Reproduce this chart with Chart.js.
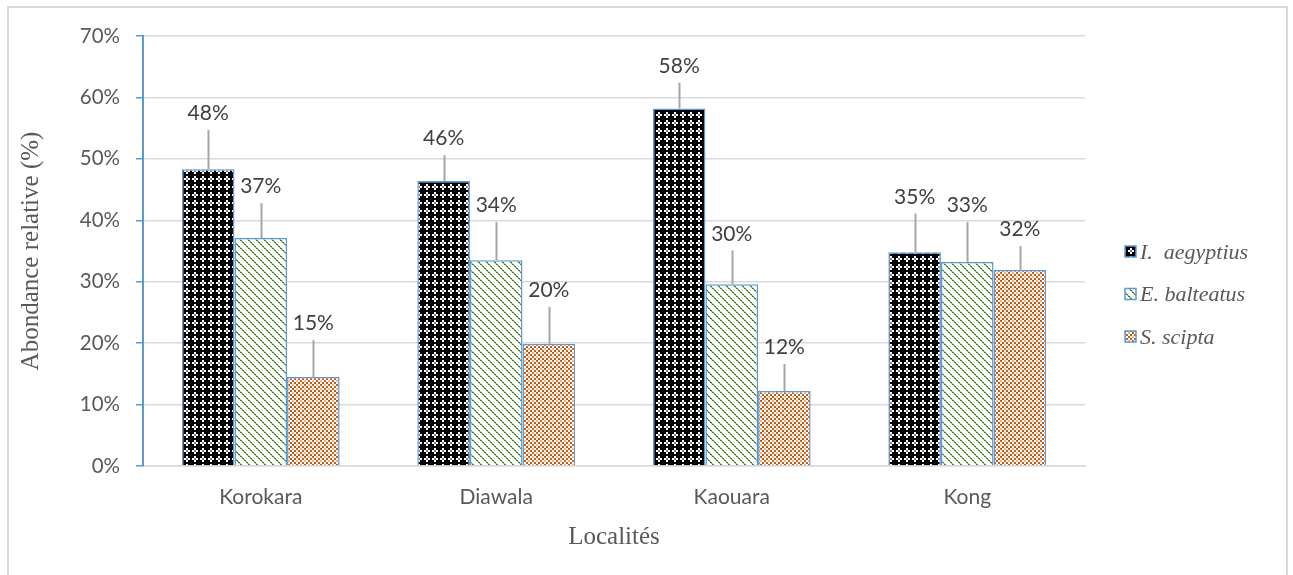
<!DOCTYPE html>
<html>
<head>
<meta charset="utf-8">
<script src="https://cdn.jsdelivr.net/npm/chart.js@4/dist/chart.umd.min.js"></script>
<style>
  html, body { margin: 0; padding: 0; background: #ffffff; }
  #wrap { width: 1293px; height: 575px; }
</style>
</head>
<body>
<div id="wrap"><canvas id="c" width="1293" height="575"></canvas></div>
<script>
// Localities and relative abundance (%) of each species
const localites = ['Korokara', 'Diawala', 'Kaouara', 'Kong'];
const aegyptius = [48.3, 46.4, 58.2, 34.8];
const balteatus = [37.1, 33.5, 29.6, 33.2];
const scipta    = [14.5, 19.9, 12.2, 31.9];
// Upper error (standard deviation, %)
const errAegyptius = [6.4, 4.2, 4.2, 6.3];
const errBalteatus = [5.7, 6.2, 5.5, 6.5];
const errScipta    = [6.0, 6.0, 4.4, 3.9];
const speciesNames = ['I.  aegyptius', 'E. balteatus', 'S. scipta'];
const yTicks = [0, 10, 20, 30, 40, 50, 60, 70];

const GREY_TEXT = '#595959';
const BAR_EDGE = '#5b9bd5';

// Hatch fills built from small pixel tiles
function makeTile(size, painter) {
  const cv = document.createElement('canvas');
  cv.width = size; cv.height = size;
  const g = cv.getContext('2d');
  painter(g, size);
  return document.getElementById('c').getContext('2d').createPattern(cv, 'repeat');
}
const patternDots = makeTile(8, (g, n) => {
  g.fillStyle = '#000000'; g.fillRect(0, 0, n, n);
  for (let cy = 0; cy < 4; cy++) {
    for (let cx = 0; cx < 4; cx++) {
      if ((cx + cy) % 2 === 1 && cx !== 3 && cy !== 3) {
        g.fillStyle = '#ffffff'; g.fillRect(cx * 2, cy * 2, 2, 2);
      } else if (cx === 1 && cy === 1) {
        g.fillStyle = '#7f7f7f'; g.fillRect(cx * 2, cy * 2, 2, 2);
      }
    }
  }
});
const patternDiag = makeTile(8, (g, n) => {
  g.fillStyle = '#ffffff'; g.fillRect(0, 0, n, n);
  for (let y = 0; y < n; y++) {
    for (let x = 0; x < n; x++) {
      const d = ((x - y) % n + n) % n;
      if (d === 0 || d === 1) {
        g.fillStyle = ((x + y) % 4 < 2) ? '#4e7a2f' : '#8cbf6a';
        g.fillRect(x, y, 1, 1);
      }
    }
  }
});
const patternLattice = makeTile(8, (g, n) => {
  g.fillStyle = '#ffffff'; g.fillRect(0, 0, n, n);
  for (let by = 0; by < 4; by++) {
    for (let bx = 0; bx < 4; bx++) {
      if ((bx + by) % 4 === 0 || ((bx - by) % 4 + 4) % 4 === 0) {
        g.fillStyle = '#c55a11'; g.fillRect(bx * 2, by * 2, 2, 2);
      } else if ((bx + by) % 2 === 0) {
        g.fillStyle = '#f4b183'; g.fillRect(bx * 2, by * 2, 2, 2);
      }
    }
  }
});

const errorSets = [errAegyptius, errBalteatus, errScipta];

// Upward error bars with the rounded value written above each one
const errorLabelPlugin = {
  id: 'errorLabels',
  afterDatasetsDraw(chart) {
    const ctx = chart.ctx;
    const y = chart.scales.y;
    ctx.save();
    chart.data.datasets.forEach((ds, di) => {
      const meta = chart.getDatasetMeta(di);
      meta.data.forEach((bar, i) => {
        const v = ds.data[i];
        const top = y.getPixelForValue(v + errorSets[di][i]);
        const base = y.getPixelForValue(v);
        ctx.strokeStyle = '#a6a6a6';
        ctx.lineWidth = 2;
        ctx.beginPath();
        ctx.moveTo(Math.round(bar.x) + 0.5, base);
        ctx.lineTo(Math.round(bar.x) + 0.5, top);
        ctx.stroke();
        ctx.fillStyle = '#404040';
        ctx.font = '21px Lato';
        ctx.textAlign = 'center';
        ctx.textBaseline = 'bottom';
        ctx.fillText(Math.round(v) + '%', bar.x, top - 6);
      });
    });
    ctx.restore();
  }
};

// Legend on the right with small hatched squares and italic names
const sideLegendPlugin = {
  id: 'sideLegend',
  afterDraw(chart) {
    const ctx = chart.ctx;
    const fills = chart.data.datasets.map(d => d.backgroundColor);
    ctx.save();
    speciesNames.forEach((name, i) => {
      const cy = 252 + i * 42.5;
      ctx.fillStyle = fills[i];
      ctx.fillRect(1125, cy - 6, 11, 11);
      ctx.strokeStyle = BAR_EDGE;
      ctx.lineWidth = 1.5;
      ctx.strokeRect(1125, cy - 6, 11, 11);
      ctx.fillStyle = GREY_TEXT;
      ctx.font = 'italic 22px "Liberation Serif"';
      ctx.textAlign = 'left';
      ctx.textBaseline = 'middle';
      ctx.fillText(name, 1140, cy + 1);
    });
    // frame round the whole figure
    ctx.strokeStyle = '#d9d9d9';
    ctx.lineWidth = 2;
    ctx.strokeRect(8, 7, 1279, 600);
    ctx.restore();
  }
};

const mkSet = (label, data, fill) => ({
  label, data,
  backgroundColor: fill,
  borderColor: BAR_EDGE,
  borderWidth: 1.5,
  categoryPercentage: 0.67,
  barPercentage: 1.0
});

new Chart(document.getElementById('c'), {
  type: 'bar',
  data: {
    labels: localites,
    datasets: [
      mkSet(speciesNames[0], aegyptius, patternDots),
      mkSet(speciesNames[1], balteatus, patternDiag),
      mkSet(speciesNames[2], scipta, patternLattice)
    ]
  },
  options: {
    responsive: false,
    animation: false,
    layout: { padding: { left: 16, right: 208, top: 36, bottom: 10 } },
    plugins: {
      legend: { display: false },
      tooltip: { enabled: false }
    },
    scales: {
      x: {
        afterFit(scale) { scale.height = 99; },
        grid: { display: false, drawTicks: false },
        border: { display: true, color: '#d9d9d9', width: 1.5 },
        ticks: { color: GREY_TEXT, font: { family: 'Lato', size: 21 }, padding: 19 },
        title: {
          display: true, text: 'Localités', color: GREY_TEXT,
          font: { family: 'Liberation Serif', size: 25 }, padding: { top: 0, bottom: 13 }
        }
      },
      y: {
        min: 0, max: 70,
        afterFit(scale) { scale.width = 127; },
        afterBuildTicks(scale) { scale.ticks = yTicks.map(v => ({ value: v })); },
        grid: { color: '#d9d9d9', lineWidth: 1.5, tickColor: BAR_EDGE, tickLength: 7 },
        border: { display: true, color: BAR_EDGE, width: 2 },
        ticks: {
          color: GREY_TEXT, font: { family: 'Lato', size: 20.5 }, padding: 16,
          callback: v => v + '%'
        },
        title: {
          display: true, text: 'Abondance relative (%)', color: GREY_TEXT,
          font: { family: 'Liberation Serif', size: 25 }, padding: { top: 0, bottom: 0 }
        }
      }
    }
  },
  plugins: [errorLabelPlugin, sideLegendPlugin]
});
</script>
</body>
</html>
